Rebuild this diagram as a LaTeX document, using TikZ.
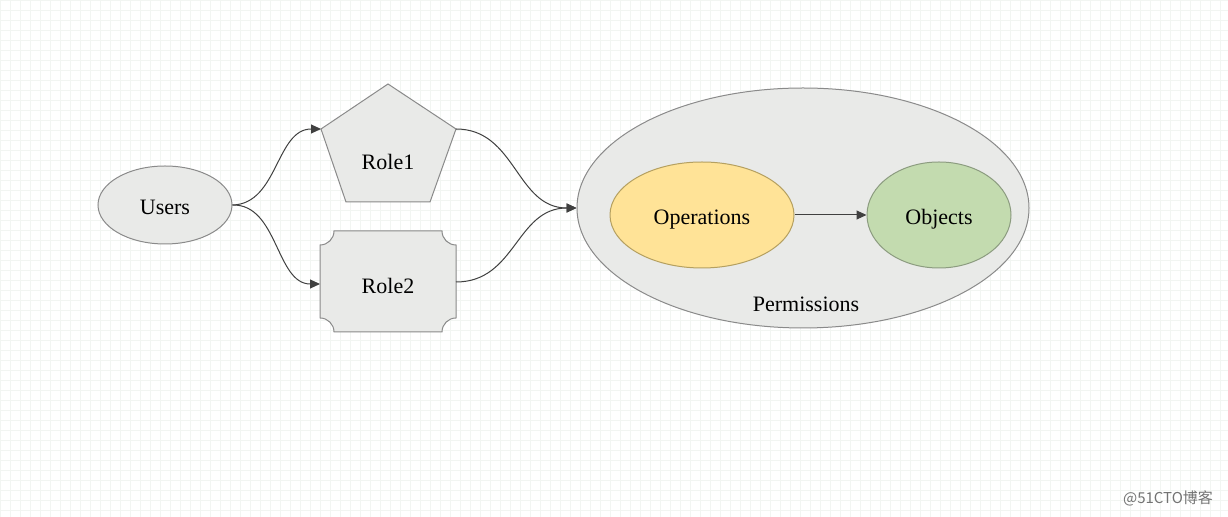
\documentclass[tikz,border=0pt]{standalone}
\usepackage{fontspec}
\setmainfont{Liberation Serif}
\newfontfamily\cjk{Noto Sans CJK SC}
\usetikzlibrary{shapes.geometric,arrows.meta,positioning}
\definecolor{shapefill}{HTML}{E9EAE8}
\definecolor{shapeline}{HTML}{8A8A8A}
\definecolor{opfill}{HTML}{FFE397}
\definecolor{opline}{HTML}{B5A060}
\definecolor{objfill}{HTML}{C3DBAF}
\definecolor{objline}{HTML}{8C9C80}
\definecolor{gridline}{HTML}{F2F5F2}
\tikzset{
  boxstyle/.style={fill=shapefill,draw=shapeline,line width=0.5pt},
  oval/.style={boxstyle,ellipse,inner sep=0pt},
  nodetext/.style={font=\fontsize{11}{13}\selectfont,text height=2.1ex,text depth=0pt},
  link/.style={draw=black!75,line width=0.5pt,-{Triangle[length=5pt,width=4.5pt]}}
}
\begin{document}
\begin{tikzpicture}[x=0.5pt,y=-0.5pt]
        % Background and grid
        \fill[white] (0,0) rectangle (1228,517);
        \useasboundingbox (0,0) rectangle (1228,517);
        \foreach \x in {0,10,...,1220}
            \draw[gridline,line width=0.2pt] (\x,0) -- (\x,517);
        \foreach \y in {0,10,...,510}
            \draw[gridline,line width=0.2pt] (0,\y) -- (1228,\y);
        % Users
        \node[oval,nodetext,minimum width=67pt,minimum height=39pt] (users) at (165,205) {Users};
        % Role1 (pentagon)
        \draw[boxstyle] (388,84) -- (456,129) -- (430,202) -- (346,202) -- (321,129) -- cycle;
        \node[nodetext] (role1) at (388,160) {Role1};
        \coordinate (role1w) at (321,129);
        \coordinate (role1e) at (456,129);
        % Role2 (rectangle with cut corners)
        \draw[boxstyle] (334,231) -- (442,231) arc[start angle=180,end angle=270,radius=7pt]
            -- (456,318) arc[start angle=90,end angle=180,radius=7pt]
            -- (334,332) arc[start angle=0,end angle=90,radius=7pt]
            -- (320,245) arc[start angle=270,end angle=360,radius=7pt] -- cycle;
        \node[nodetext] (role2) at (388,284) {Role2};
        \coordinate (role2w) at (320,284);
        \coordinate (role2e) at (456,282);
        % Permissions
        \node[oval,minimum width=226pt,minimum height=120pt] (perm) at (803,208) {};
        \node[nodetext] (permtext) at (806,302) {Permissions};
        \node[oval,nodetext,fill=opfill,draw=opline,minimum width=92pt,minimum height=53pt] (ops) at (702,215) {Operations};
        \node[oval,nodetext,fill=objfill,draw=objline,minimum width=72pt,minimum height=53pt] (objs) at (939,215) {Objects};
        % Links
        \draw[link] (users.east) .. controls (278,204) and (276,129) .. (role1w);
        \draw[link] (users.east) .. controls (278,204) and (276,284) .. (role2w);
        \draw[link] (role1e) .. controls (516,129) and (516,208) .. (perm.west);
        \draw[link] (role2e) .. controls (516,282) and (516,208) .. (perm.west);
        \draw[link] (ops.east) -- (objs.west);
        % Watermark
        \node[text=black!55,font=\cjk\fontsize{7.5}{9}\selectfont] (mark) at (1168,498) {@51CTO博客};
\end{tikzpicture}
\end{document}
